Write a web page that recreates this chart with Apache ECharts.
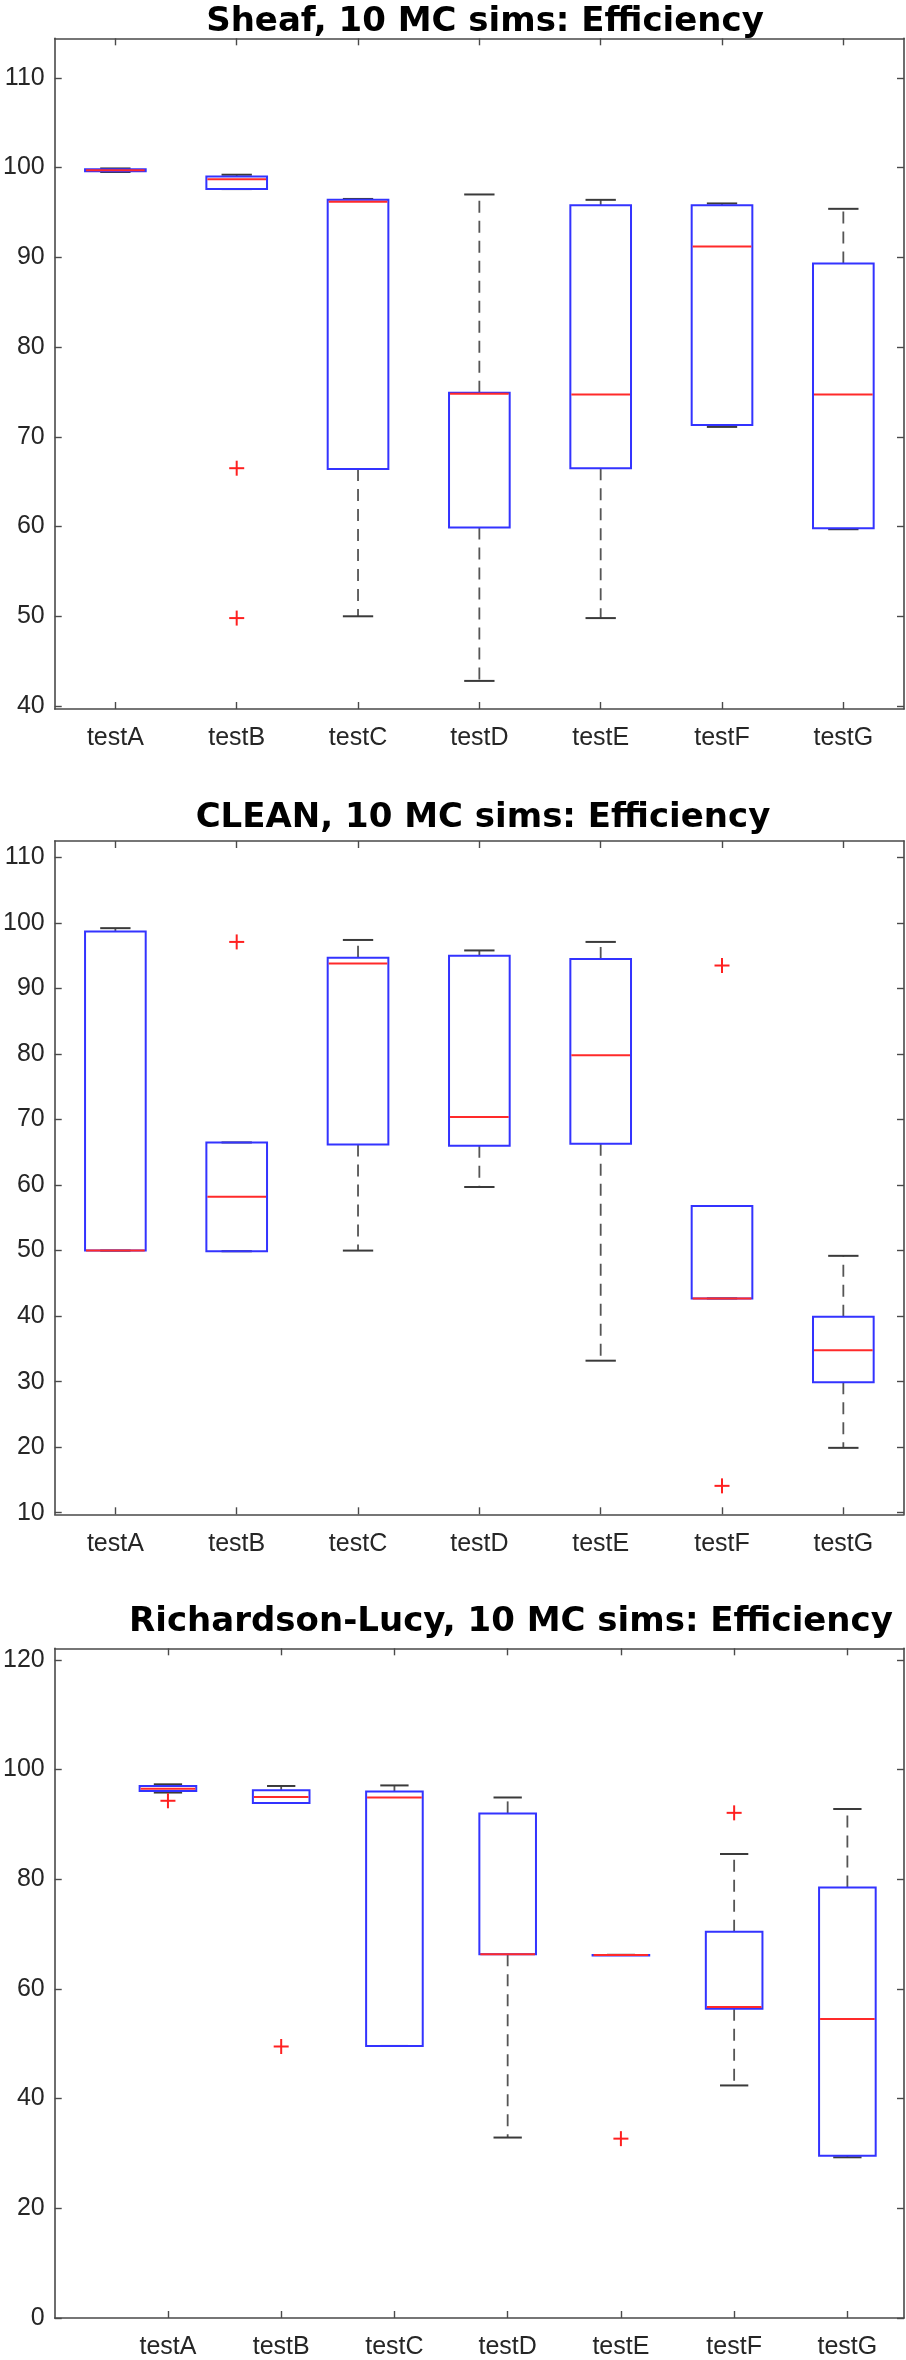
<!DOCTYPE html>
<html><head><meta charset="utf-8">
<script src="https://cdn.jsdelivr.net/npm/echarts@6/dist/echarts.min.js"></script>
<style>html,body{margin:0;padding:0;background:#fff}#c{width:906px;height:2360px}</style>
</head><body><div id="c"></div>
<script>
// ---- data ----
const categories = ['testA', 'testB', 'testC', 'testD', 'testE', 'testF', 'testG'];
const titles = ['Sheaf, 10 MC sims: Efficiency', 'CLEAN, 10 MC sims: Efficiency', 'Richardson-Lucy, 10 MC sims: Efficiency'];

// each box: [min whisker, Q1, median, Q3, max whisker]
const sheafBoxes = [
  [99.5, 99.6, 99.7, 99.8, 99.9],
  [97.6, 97.6, 98.7, 99.0, 99.2],
  [50.0, 66.4, 96.2, 96.4, 96.5],
  [42.8, 59.9, 74.8, 74.9, 97.0],
  [49.8, 66.5, 74.7, 95.8, 96.4],
  [71.1, 71.3, 91.2, 95.8, 96.0],
  [59.7, 59.8, 74.7, 89.3, 95.4]
];
const sheafOutliers = [[2, 66.5], [2, 49.8]];

const cleanBoxes = [
  [50.0, 50.0, 50.0, 98.7, 99.2],
  [49.9, 49.9, 58.2, 66.5, 66.5],
  [50.0, 66.2, 93.8, 94.7, 97.4],
  [59.7, 66.0, 70.4, 95.0, 95.8],
  [33.2, 66.3, 79.8, 94.5, 97.1],
  [42.7, 42.7, 42.7, 56.8, 56.8],
  [19.9, 29.9, 34.8, 39.9, 49.2]
];
const cleanOutliers = [[2, 97.1], [6, 93.5], [6, 14.1]];

const rlBoxes = [
  [95.8, 96.1, 96.5, 97.0, 97.3],
  [93.9, 93.9, 95.0, 96.2, 97.0],
  [49.6, 49.6, 94.9, 96.0, 97.1],
  [32.9, 66.3, 66.3, 92.0, 94.9],
  [66.2, 66.2, 66.2, 66.2, 66.2],
  [42.4, 56.4, 56.7, 70.4, 84.6],
  [29.3, 29.6, 54.5, 78.5, 92.8]
];
const rlOutliers = [[1, 94.3], [2, 49.5], [5, 32.7], [6, 92.1]];

const sheafYTicks = [40, 50, 60, 70, 80, 90, 100, 110];
const cleanYTicks = [10, 20, 30, 40, 50, 60, 70, 80, 90, 100, 110];
const rlYTicks = [0, 20, 40, 60, 80, 100, 120];
const xTickPositions = [1, 2, 3, 4, 5, 6, 7];

// ---- layout ----
const panels = [
  {boxes: sheafBoxes, outliers: sheafOutliers, yTicks: sheafYTicks, yMin: 39.67, yMax: 114.4, xMin: 0.5, top: 38.3, height: 670.7, titleTop: 0, titleX: 480},
  {boxes: cleanBoxes, outliers: cleanOutliers, yTicks: cleanYTicks, yMin: 9.76, yMax: 112.5, xMin: 0.5, top: 841, height: 673.3, titleTop: 796, titleX: 478},
  {boxes: rlBoxes, outliers: rlOutliers, yTicks: rlYTicks, yMin: 0, yMax: 122.1, xMin: 0, top: 1648.3, height: 670.7, titleTop: 1600, titleX: 506}
];

const axisColor = '#4a4a4a';
const labelStyle = {color: '#262626', fontSize: 25, fontFamily: 'Liberation Sans'};

function boxRender(params, api) {
  const x = api.value(0);
  const mn = api.value(1), q1 = api.value(2), md = api.value(3), q3 = api.value(4), mx = api.value(5);
  const cx = api.coord([x, md])[0];
  const bw = api.size([0.5, 0])[0];
  const cw = api.size([0.25, 0])[0];
  const y = v => api.coord([x, v])[1];
  const dash = {stroke: '#555555', lineWidth: 1.8, lineDash: [12, 8]};
  const cap = {stroke: '#3a3a3a', lineWidth: 2};
  const children = [];
  if (mx > q3) children.push({type: 'line', shape: {x1: cx, y1: y(q3), x2: cx, y2: y(mx)}, style: dash});
  if (mn < q1) children.push({type: 'line', shape: {x1: cx, y1: y(q1), x2: cx, y2: y(mn)}, style: dash});
  children.push({type: 'line', shape: {x1: cx - cw / 2, y1: y(mx), x2: cx + cw / 2, y2: y(mx)}, style: cap});
  children.push({type: 'line', shape: {x1: cx - cw / 2, y1: y(mn), x2: cx + cw / 2, y2: y(mn)}, style: cap});
  children.push({type: 'rect', shape: {x: cx - bw / 2, y: y(q3), width: bw, height: Math.max(y(q1) - y(q3), 0.5)},
    style: {fill: 'transparent', stroke: '#3333ff', lineWidth: 2}});
  children.push({type: 'line', shape: {x1: cx - bw / 2 + 1, y1: y(md), x2: cx + bw / 2 - 1, y2: y(md)},
    style: {stroke: '#ff2a2a', lineWidth: 2}});
  return {type: 'group', children: children};
}

function outlierRender(params, api) {
  const p = api.coord([api.value(0), api.value(1)]);
  const h = 7.5;
  const st = {stroke: '#ff2020', lineWidth: 2};
  return {type: 'group', children: [
    {type: 'line', shape: {x1: p[0] - h, y1: p[1], x2: p[0] + h, y2: p[1]}, style: st},
    {type: 'line', shape: {x1: p[0], y1: p[1] - h, x2: p[0], y2: p[1] + h}, style: st}
  ]};
}

const option = {
  backgroundColor: '#fff',
  animation: false,
  title: [], grid: [], xAxis: [], yAxis: [], series: []
};

panels.forEach((p, i) => {
  option.title.push({
    text: titles[i], left: p.titleX, top: p.titleTop, textAlign: 'center',
    textStyle: {fontFamily: 'DejaVu Sans', fontWeight: 'bold', fontSize: 34, color: '#000'}
  });
  option.grid.push({left: 53.7, right: 2, top: p.top, height: p.height, show: false});
  const xBase = {
    type: 'value', gridIndex: i, min: p.xMin, max: 7.5,
    splitLine: {show: false},
    axisLine: {show: true, onZero: false, lineStyle: {color: axisColor, width: 1.6}},
    axisTick: {show: true, inside: true, length: 7, customValues: xTickPositions, lineStyle: {color: axisColor, width: 1.4}}
  };
  option.xAxis.push(Object.assign({}, xBase, {
    position: 'bottom',
    axisLabel: Object.assign({show: true, margin: 17, customValues: xTickPositions,
      formatter: v => categories[Math.round(v) - 1] || ''}, labelStyle)
  }));
  option.xAxis.push(Object.assign({}, xBase, {position: 'top', axisLabel: {show: false}}));
  const yBase = {
    type: 'value', gridIndex: i, min: p.yMin, max: p.yMax,
    splitLine: {show: false},
    axisLine: {show: true, onZero: false, lineStyle: {color: axisColor, width: 1.6}},
    axisTick: {show: true, inside: true, length: 7, customValues: p.yTicks, lineStyle: {color: axisColor, width: 1.4}}
  };
  option.yAxis.push(Object.assign({}, yBase, {
    position: 'left',
    axisLabel: Object.assign({show: true, margin: 10, customValues: p.yTicks}, labelStyle)
  }));
  option.yAxis.push(Object.assign({}, yBase, {position: 'right', axisLabel: {show: false}}));

  option.series.push({
    type: 'custom', xAxisIndex: 2 * i, yAxisIndex: 2 * i,
    renderItem: boxRender,
    encode: {x: 0, y: [1, 2, 3, 4, 5]},
    data: p.boxes.map((b, k) => [k + 1].concat(b))
  });
  option.series.push({
    type: 'custom', xAxisIndex: 2 * i, yAxisIndex: 2 * i,
    renderItem: outlierRender,
    encode: {x: 0, y: 1},
    data: p.outliers
  });
});

const chart = echarts.init(document.getElementById('c'), null, {renderer: 'canvas'});
chart.setOption(option);
</script>
</body></html>
